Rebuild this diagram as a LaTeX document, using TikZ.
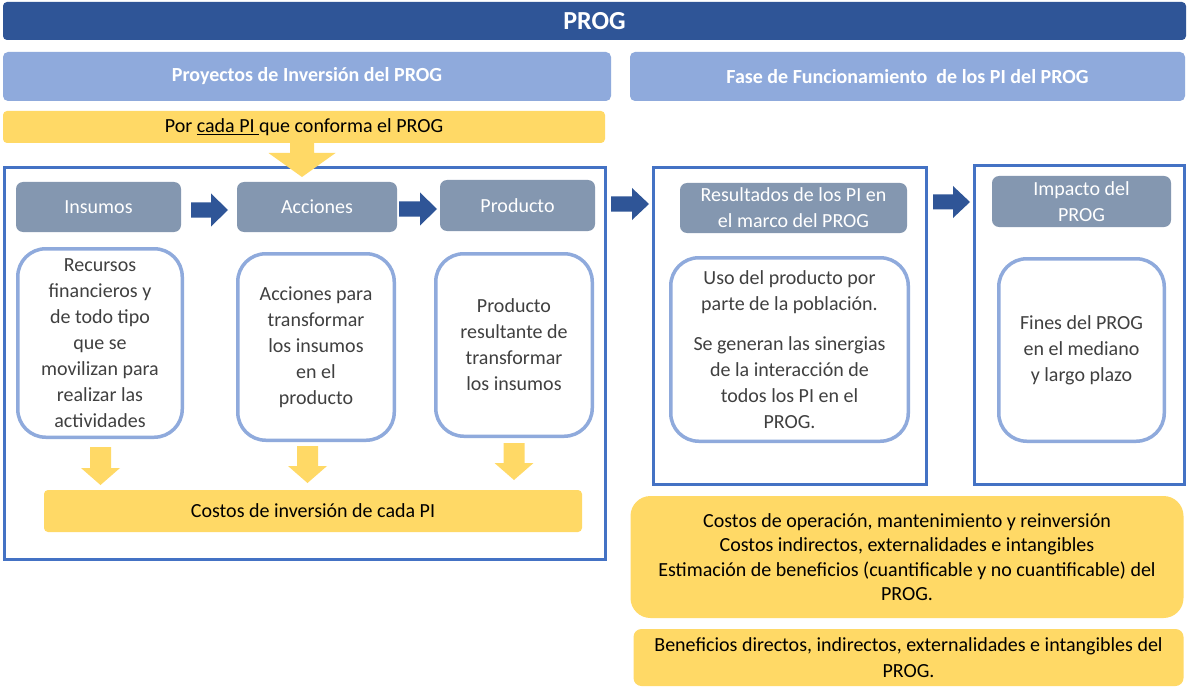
\documentclass[tikz,border=0pt]{standalone}
\usepackage{fontspec}
\setmainfont{Carlito}
\definecolor{darkb}{HTML}{2F5597}
\definecolor{lightb}{HTML}{8FAADC}
\definecolor{yel}{HTML}{FFD966}
\definecolor{grayb}{HTML}{8497B0}
\definecolor{frameb}{HTML}{4472C4}
\definecolor{txtgray}{HTML}{404040}
\newcommand\myharrow[6]{% x1, x2 (tip), y, shafthalf, headhalf, headlen
 \fill[darkb] (#1,{#3-#4}) -- ({#2-#6},{#3-#4}) -- ({#2-#6},{#3-#5}) -- (#2,#3) -- ({#2-#6},{#3+#5}) -- ({#2-#6},{#3+#4}) -- (#1,{#3+#4}) -- cycle;}
\newcommand\myvarrow[6]{% x, y1 (top), y2 (tip), shafthalf, headhalf, headlen
 \fill[yel] ({#1-#4},#2) -- ({#1-#4},{#3-#6}) -- ({#1-#5},{#3-#6}) -- (#1,#3) -- ({#1+#5},{#3-#6}) -- ({#1+#4},{#3-#6}) -- ({#1+#4},#2) -- cycle;}
\begin{document}
\begin{tikzpicture}[x=1pt,y=-1pt,
 every node/.style={inner sep=0pt, outer sep=0pt, align=center},
 titlebar/.style={fill=darkb, rounded corners=4pt, text=white, font=\fontsize{26}{30}\selectfont\bfseries},
 header/.style={fill=lightb, rounded corners=5pt, text=white, font=\fontsize{20}{26}\selectfont\bfseries},
 yelbar/.style={fill=yel, rounded corners=4pt, text=black, font=\fontsize{20}{26}\selectfont},
 frame/.style={draw=frameb, line width=3pt},
 graybox/.style={fill=grayb, rounded corners=7pt, text=white, font=\fontsize{20}{26}\selectfont},
 whitebox/.style={draw=lightb, line width=3.5pt, fill=white, rounded corners=28pt, text=txtgray, font=\fontsize{20}{26}\selectfont},
]
\fill[white] (0,0) rectangle (1188,687);
\useasboundingbox (0,0) rectangle (1188,687);

\node[titlebar, minimum width=1183, minimum height=38] (title) at (594.5,21) {PROG};
\node[header, minimum width=608, minimum height=49] (lhead) at (307,76.5) {Proyectos de Inversión del PROG};
\node[header, minimum width=555, minimum height=49] (rhead) at (907.5,76.5) {Fase de Funcionamiento\ \ de los PI del PROG};
\node[yelbar, minimum width=602, minimum height=32] (por) at (304,127) {Por \underline{cada PI\ }que conforma el PROG};

% frames
\node[frame, minimum width=600.5, minimum height=391] (f1) at (304.75,363.5) {};
\node[frame, minimum width=273, minimum height=316] (f2) at (789.5,326) {};
\node[frame, minimum width=210, minimum height=318] (f3) at (1079,325) {};

% gray boxes
\node[graybox, minimum width=165, minimum height=50] (ins) at (98.5,207) {Insumos};
\node[graybox, minimum width=160, minimum height=50] (acc) at (317,207) {Acciones};
\node[graybox, minimum width=155, minimum height=51] (prod) at (517.5,205.5) {Producto};
\node[graybox, minimum width=227, minimum height=50] (resg) at (793.5,208) {Resultados de los PI en\\el marco del PROG};
\node[graybox, minimum width=179, minimum height=51] (impg) at (1081.5,201.5) {Impacto del\\PROG};

% white boxes
\node[whitebox, minimum width=164.5, minimum height=188.5] (wb1) at (100,343) {Recursos\\financieros y\\de todo tipo\\que se\\movilizan para\\realizar las\\actividades};
\node[whitebox, minimum width=156.5, minimum height=186.5] (wb2) at (316,347) {Acciones para\\transformar\\los insumos\\en el\\producto};
\node[whitebox, minimum width=156.5, minimum height=182.5] (wb3) at (514,345) {Producto\\resultante de\\transformar\\los insumos};
\node[whitebox, minimum width=237.5, minimum height=183.5] (wres) at (789.5,349.5) {Uso del producto por\\parte de la población.\\[14pt]Se generan las sinergias\\de la interacción de\\todos los PI en el\\PROG.};
\node[whitebox, minimum width=165.5, minimum height=182.5] (wfin) at (1081.5,350) {Fines del PROG\\en el mediano\\y largo plazo};

% yellow bars
\node[yelbar, minimum width=538, minimum height=42] (costos) at (313,511) {Costos de inversión de cada PI};
\node[yelbar, rounded corners=20pt, minimum width=553, minimum height=122, font=\fontsize{20}{24.5}\selectfont] (y1) at (907,557) {Costos de operación, mantenimiento y reinversión\\Costos indirectos, externalidades e intangibles\\Estimación de beneficios (cuantificable y no cuantificable) del\\PROG.};
\node[yelbar, rounded corners=8pt, minimum width=550, minimum height=57] (y2) at (908.5,657.5) {Beneficios directos, indirectos, externalidades e intangibles del\\PROG.};

% block arrows
\myharrow{191}{228}{210}{7.5}{16.5}{17}
\myharrow{399}{437}{209}{7.5}{16.5}{17}
\myharrow{611}{649}{204}{7.5}{16}{17}
\myharrow{933}{970}{202}{7.5}{16}{17}
\myvarrow{302}{143}{177}{12}{33.5}{24}
\myvarrow{100.5}{447}{485}{10.5}{19.5}{17}
\myvarrow{307.5}{446}{483}{10.5}{19.5}{17}
\myvarrow{514}{443}{480}{10.5}{19.5}{17}
\end{tikzpicture}
\end{document}
